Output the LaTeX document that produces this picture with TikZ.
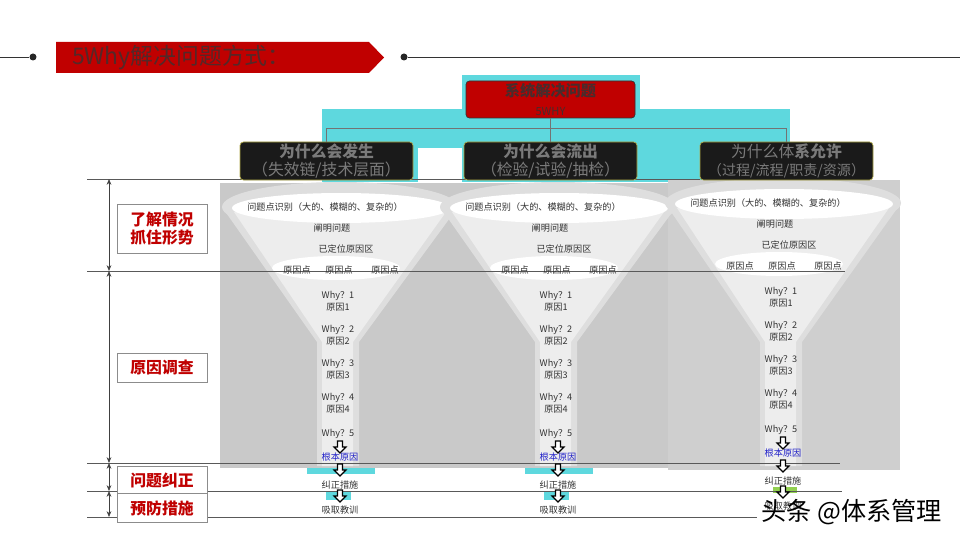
\documentclass[tikz,border=0pt]{standalone}
\usepackage{fontspec}
\setmainfont{Noto Sans CJK SC}
\usetikzlibrary{positioning,arrows.meta}
\definecolor{bannerred}{RGB}{192,0,0}
\definecolor{titletxt}{RGB}{84,40,40}
\definecolor{redtxt}{RGB}{72,44,44}
\definecolor{tealbg}{RGB}{94,216,222}
\definecolor{boxdark}{RGB}{26,26,26}
\definecolor{boxedge}{RGB}{175,168,70}
\definecolor{boxtxt}{RGB}{122,122,122}
\definecolor{panelgray}{RGB}{201,201,201}
\definecolor{panelgrayb}{RGB}{207,207,207}
\definecolor{funout}{RGB}{222,222,222}
\definecolor{funin}{RGB}{237,237,237}
\definecolor{rootblue}{RGB}{30,30,200}
\definecolor{leafgreen}{RGB}{146,208,80}

\begin{document}
\begin{tikzpicture}[x=0.03cm, y=-0.03cm,
  whybox/.style={rectangle, draw=boxedge, fill=boxdark, rounded corners=3pt,
                 line width=0.6pt, minimum width=5.19cm, minimum height=1.14cm,
                 inner sep=1pt, align=center, text=boxtxt,
                 font=\fontsize{13.5}{15.5}\selectfont},
  redbox/.style={rectangle, draw=black!80, fill=bannerred, rounded corners=3pt,
                 line width=0.6pt, minimum width=5.07cm, minimum height=1.11cm,
                 inner sep=1pt, align=center, text=redtxt,
                 font=\bfseries\fontsize{13}{15.5}\selectfont},
  stagebox/.style={rectangle, draw=black!45, fill=white, line width=0.5pt,
                   minimum width=2.7cm, minimum height=0.87cm, inner sep=1pt,
                   align=center, text=bannerred,
                   font=\bfseries\fontsize{13.5}{16}\selectfont},
  ftxt/.style={inner sep=0pt, align=center, text=black!80,
               font=\fontsize{7.8}{10.2}\selectfont},
  rule/.style={draw=black!65, line width=0.6pt},
  dim/.style={{Stealth[length=5pt,width=4pt]}-{Stealth[length=5pt,width=4pt]},
              draw=black!75, line width=0.6pt},
  tree/.style={draw=black!55, line width=1.2pt},
  dot/.style={circle, fill=black!85, inner sep=0pt, minimum size=0.21cm},
  dnarrow/.pic={\draw[line width=1pt, fill=white]
      (-2.5,0) -- (2.5,0) -- (2.5,6) -- (6,6) -- (0,12) -- (-6,6) -- (-2.5,6) -- cycle;}]
  \useasboundingbox (0,0) rectangle (960,540);

  % header
  \coordinate (edgeL) at (0,57);
  \coordinate (edgeR) at (960,57);
  \node[dot] (dotL) at (33,57) {};
  \node[dot] (dotR) at (404,57) {};
  \draw[black!80, line width=0.6pt] (edgeL) -- (dotL);
  \draw[black!80, line width=0.6pt] (dotR) -- (edgeR);
  \fill[bannerred] (56,42) -- (369,42) -- (384,57.5) -- (369,73) -- (56,73) -- cycle;
  \node[anchor=west, inner sep=0pt, text=titletxt,
        font=\fontsize{19.5}{22}\selectfont] (title) at (72,57.5) {5Why解决问题方式：};

  % cyan backdrop of the tree
  \fill[tealbg] (462,75) rectangle (640,109);
  \fill[tealbg] (322,109) rectangle (790,148);
  \fill[tealbg] (322,148) rectangle (418,182);
  \fill[tealbg] (462,148) rectangle (790,182);

  % gray panels
  \fill[panelgray] (220,183) rectangle (668,468);
  \fill[panelgrayb] (668,180) rectangle (900,470);

  % funnels
  \foreach \c/\id/\dy in {340/L/0, 558/M/0, 783/R/-4} {
    \fill[funout] (\c-118,207+\dy) -- (\c-23,342) -- (\c-23,466) -- (\c+19,466)
                  -- (\c+19,342) -- (\c+118,207+\dy) -- cycle;
    \fill[funout] (\c,207+\dy) ellipse (118 and 25);
    \fill[funin] (\c-106,212+\dy) -- (\c-18,342) -- (\c-18,466) -- (\c+13,466)
                 -- (\c+13,342) -- (\c+106,212+\dy) -- cycle;
    \fill[white] (\c+1,208+\dy) ellipse (109 and 15);
    \fill[white] (\c-4,268+\dy) ellipse (64 and 12);
  }

  % bars under the funnels
  \foreach \c in {340, 558} {
    \fill[tealbg] (\c-33,468) rectangle (\c+35,474);
    \fill[tealbg] (\c-14,491) rectangle (\c+11,500);
  }
  \fill[leafgreen] (773,487) rectangle (797,493);

  % stage rules
  \draw[rule] (87,179) -- (700,179);
  \draw[rule] (87,271) -- (845,271);
  \draw[rule] (87,463) -- (840,463);
  \draw[rule] (87,491) -- (842,491);
  \draw[rule] (87,517) -- (757,517);

  \coordinate (m0) at (109,179);
  \coordinate (m1) at (109,271);
  \coordinate (m2) at (109,463);
  \coordinate (m3) at (109,491);
  \coordinate (m4) at (109,517);
  \draw[dim] (m0) -- (m1);
  \draw[dim] (m1) -- (m2);
  \draw[dim] (m2) -- (m3);
  \draw[dim] (m3) -- (m4);

  \node[stagebox, minimum height=1.47cm] (s1) at (162,228.5) {了解情况\\抓住形势};
  \node[stagebox] (s2) at (162,367.5) {原因调查};
  \node[stagebox] (s3) at (162,480.5) {问题纠正};
  \node[stagebox] (s4) at (162,508) {预防措施};

  % tree
  \node[redbox] (top) at (550.5,99.5) {系统解决问题\\{\mdseries\fontsize{9.5}{11}\selectfont 5WHY}};
  \node[whybox] (lft) at (326.5,161) {\textbf{为什么会发生}\\（失效链/技术层面）};
  \node[whybox] (mid) at (550.5,161) {\textbf{为什么会流出}\\（检验/试验/抽检）};
  \node[whybox] (rgt) at (786.5,161) {为什么体\textbf{系允许}\\{\fontsize{12}{14}\selectfont（过程/流程/职责/资源）}};
  \draw[tree] (top.south) -- (mid.north);
  \draw[tree] (lft.north) -- ++(0,-13) -| (rgt.north);

  % funnel texts
  \foreach \c/\id/\dy in {340/L/0, 558/M/0, 783/R/-4} {
    \node[ftxt] (q\id) at (\c-15,207+\dy) {问题点识别（大的、模糊的、复杂的）};
    \node[ftxt] (clar\id) at (\c-8,228+\dy) {阐明问题};
    \node[ftxt] (zone\id) at (\c+6,249+\dy) {已定位原因区};
    \node[ftxt] (pa\id) at (\c-43,270+\dy) {原因点};
    \node[ftxt] (pb\id) at (\c-1,270+\dy) {原因点};
    \node[ftxt] (pc\id) at (\c+45,270+\dy) {原因点};
    \foreach \k/\yy in {1/295, 2/329, 3/363, 4/397} {
      \node[ftxt] (why\id\k) at (\c-2,\yy+6+\dy) {Why？\k\\原因\k};
    }
    \node[ftxt] (why\id5) at (\c-2,434+\dy) {Why？5};
    \pic at (\c,441+\dy) {dnarrow};
    \node[ftxt, text=rootblue] (root\id) at (\c,457+\dy) {根本原因};
    \pic at (\c,464+\dy) {dnarrow};
    \node[ftxt] (fix\id) at (\c,485+\dy) {纠正措施};
    \pic at (\c,490+\dy) {dnarrow};
    \node[ftxt] (learn\id) at (\c,510+\dy) {吸取教训};
  }

  \node[anchor=west, inner sep=0pt, text=black,
        font=\fontsize{21.5}{24}\selectfont] (wm) at (761,512) {头条 @体系管理};
\end{tikzpicture}
\end{document}
